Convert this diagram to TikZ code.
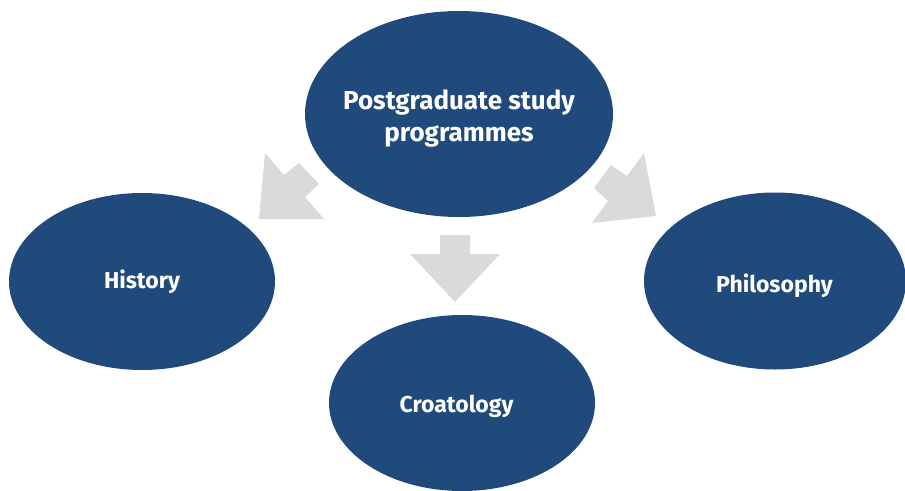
\documentclass[tikz,border=0pt]{standalone}
\usepackage{fontspec}
\setmainfont{Fira Sans}
\usetikzlibrary{shapes.geometric}
\definecolor{ellblue}{HTML}{204A7C}
\definecolor{arrgray}{HTML}{D9DADB}
\tikzset{
  bubble/.style={ellipse, fill=ellblue, draw=none, inner sep=0pt},
  bubtext/.style={text=white, inner sep=0pt, anchor=base,
    font=\fontsize{23}{28}\selectfont\bfseries},
  toptext/.style={bubtext, font=\fontsize{26}{32}\selectfont\bfseries},
  blockarrow/.style={fill=arrgray, draw=none}
}
\begin{document}
\begin{tikzpicture}[x=1pt,y=-1pt]
\useasboundingbox (0,0) rectangle (905,490);
% arrows
\fill[blockarrow] (259,219) -- (265,153) -- (284,175) -- (299,163) -- (319,184) -- (305,197) -- (324,219) -- cycle;
\fill[blockarrow] (440,235) -- (470,235) -- (470,254) -- (500,254) -- (455,302) -- (410,254) -- (440,254) -- cycle;
\fill[blockarrow] (656,216) -- (644,153) -- (627,176) -- (611,165) -- (594,188) -- (608,201) -- (592,223) -- cycle;
% ellipses
\node[bubble, minimum width=308pt, minimum height=206pt] (top) at (459,114) {};
\node[bubble, minimum width=266pt, minimum height=177pt] (hist) at (142,281.5) {};
\node[bubble, minimum width=262pt, minimum height=177pt] (phil) at (775,281) {};
\node[bubble, minimum width=266pt, minimum height=176pt] (croat) at (462,403) {};
% texts
\node[toptext] (topA) at (459,109) {Postgraduate study};
\node[toptext] (topB) at (459,141) {programmes};
\node[bubtext] (histT) at (142,288) {History};
\node[bubtext] (philT) at (774.5,292) {Philosophy};
\node[bubtext] (croatT) at (456.5,412.5) {Croatology};
\end{tikzpicture}
\end{document}
